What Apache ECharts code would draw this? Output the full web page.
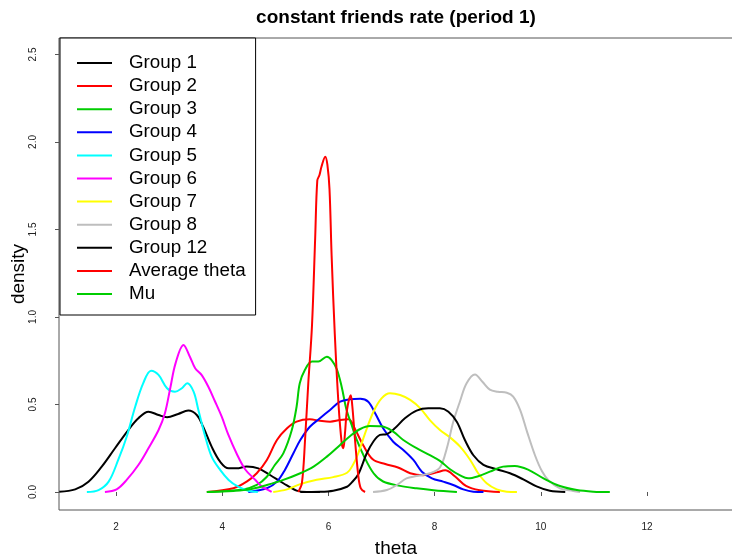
<!DOCTYPE html>
<html>
<head>
<meta charset="utf-8">
<script src="https://cdn.jsdelivr.net/npm/echarts@6/dist/echarts.min.js"></script>
<style>
html,body{margin:0;padding:0;background:#fff;}
#chart{width:732px;height:557px;}
</style>
</head>
<body>
<div id="chart"></div>
<script>
// ---- data ----
const xTicks = [2, 4, 6, 8, 10, 12];
const yTicks = [0, 0.5, 1, 1.5, 2, 2.5];

const seriesNames = ['Group 1','Group 2','Group 3','Group 4','Group 5','Group 6','Group 7','Group 8','Group 12','Average theta','Mu'];

const group1Theta = [0.93,1.23,1.48,1.73,1.98,2.23,2.42,2.61,2.80,2.96,3.17,3.36,3.52,3.64,3.80,3.96,4.12,4.27,4.46,4.68,4.90,5.15,5.40,5.59,5.84];
const group1Dens  = [0.002,0.015,0.059,0.145,0.25,0.354,0.421,0.459,0.44,0.427,0.446,0.465,0.44,0.373,0.259,0.173,0.135,0.135,0.145,0.135,0.097,0.05,0.008,0,0];

const group2Theta = [3.71,4.21,4.46,4.65,4.84,5.03,5.22,5.40,5.65,5.84,6.03,6.22,6.38,6.50,6.65,6.84,7.07,7.31,7.54,7.78,8.04,8.20,8.38,8.59,8.85,9.23];
const group2Dens  = [0,0.021,0.059,0.107,0.183,0.297,0.364,0.402,0.415,0.407,0.402,0.411,0.415,0.36,0.27,0.185,0.16,0.14,0.107,0.095,0.112,0.124,0.09,0.035,0.01,0];

const group3Theta = [3.71,4.40,4.65,4.84,4.99,5.15,5.31,5.40,5.46,5.56,5.69,5.81,5.97,6.06,6.16,6.25,6.34,6.44,6.53,6.66,6.85,7.03,7.35,7.66,7.98,8.42];
const group3Dens  = [0,0.015,0.04,0.087,0.154,0.221,0.354,0.487,0.621,0.70,0.745,0.745,0.773,0.754,0.70,0.60,0.47,0.38,0.30,0.21,0.107,0.06,0.035,0.021,0.01,0];

const group4Theta = [4.49,4.84,5.03,5.18,5.34,5.47,5.65,5.84,6.03,6.22,6.41,6.60,6.75,6.88,7.03,7.22,7.41,7.60,7.76,7.95,8.16,8.35,8.54,8.73,8.92];
const group4Dens  = [0,0.021,0.059,0.126,0.221,0.297,0.373,0.421,0.469,0.516,0.53,0.533,0.516,0.45,0.364,0.287,0.24,0.183,0.116,0.078,0.059,0.04,0.015,0.002,0];

const group5Theta = [1.45,1.67,1.86,2.04,2.20,2.36,2.51,2.66,2.80,2.96,3.11,3.24,3.34,3.46,3.55,3.68,3.80,3.96,4.12,4.30,4.49,4.67];
const group5Dens  = [0,0.011,0.059,0.183,0.316,0.487,0.621,0.693,0.669,0.593,0.573,0.593,0.621,0.573,0.469,0.316,0.202,0.126,0.069,0.03,0.007,0];

const group6Theta = [1.79,2.01,2.20,2.42,2.61,2.80,2.92,3.02,3.12,3.27,3.39,3.49,3.61,3.74,3.86,3.99,4.11,4.27,4.43,4.62,4.75,4.87,4.93];
const group6Dens  = [0,0.015,0.069,0.154,0.25,0.354,0.45,0.593,0.735,0.84,0.773,0.707,0.669,0.60,0.52,0.43,0.33,0.22,0.13,0.07,0.03,0.01,0];

const group7Theta = [4.96,5.22,5.47,5.78,6.09,6.35,6.47,6.56,6.69,6.85,7.00,7.16,7.35,7.54,7.73,7.91,8.10,8.29,8.48,8.67,8.82,8.98,9.17,9.36,9.55];
const group7Dens  = [0,0.015,0.045,0.07,0.085,0.11,0.16,0.22,0.335,0.46,0.535,0.564,0.554,0.526,0.478,0.411,0.354,0.312,0.259,0.183,0.107,0.05,0.015,0.002,0];

const group8Theta = [6.84,7.10,7.29,7.47,7.66,7.91,8.10,8.23,8.35,8.48,8.60,8.76,8.90,9.04,9.19,9.36,9.48,9.61,9.74,9.89,10.02,10.15,10.36,10.61,10.74];
const group8Dens  = [0,0.011,0.04,0.078,0.091,0.107,0.14,0.25,0.40,0.52,0.62,0.671,0.63,0.585,0.573,0.567,0.545,0.469,0.345,0.21,0.12,0.065,0.021,0.006,0];

const group12Theta = [5.47,5.84,6.09,6.35,6.44,6.56,6.72,6.85,6.97,7.10,7.25,7.44,7.66,7.88,8.10,8.26,8.42,8.57,8.73,8.92,9.17,9.42,9.67,9.92,10.17,10.46];
const group12Dens  = [0,0.001,0.007,0.03,0.055,0.10,0.22,0.29,0.326,0.331,0.364,0.421,0.465,0.478,0.478,0.459,0.40,0.297,0.21,0.155,0.13,0.107,0.072,0.032,0.007,0];

const avgTheta = [5.43,5.50,5.56,5.62,5.69,5.75,5.79,5.83,5.87,5.94,5.98,6.02,6.06,6.12,6.19,6.25,6.28,6.31,6.35,6.42,6.45,6.50,6.56,6.61,6.69];
const avgDens  = [0,0.05,0.30,0.62,0.95,1.45,1.78,1.81,1.86,1.916,1.87,1.73,1.35,0.9,0.5,0.28,0.25,0.33,0.47,0.553,0.49,0.3,0.1,0.02,0];

const muTheta = [3.71,4.21,4.52,4.84,5.15,5.47,5.72,5.97,6.22,6.41,6.60,6.78,7.00,7.22,7.41,7.66,7.91,8.10,8.29,8.48,8.63,8.82,9.04,9.29,9.51,9.76,10.05,10.36,10.68,10.99,11.30];
const muDens  = [0,0.006,0.015,0.04,0.069,0.107,0.145,0.202,0.269,0.32,0.36,0.377,0.375,0.345,0.297,0.25,0.211,0.178,0.13,0.095,0.078,0.09,0.116,0.145,0.149,0.128,0.078,0.034,0.011,0.002,0];

// ---- styles ----
const seriesColors = ['#000000','#FF0000','#00CD00','#0000FF','#00FFFF','#FF00FF','#FFFF00','#BEBEBE','#000000','#FF0000','#00CD00'];
const thetaLists = [group1Theta,group2Theta,group3Theta,group4Theta,group5Theta,group6Theta,group7Theta,group8Theta,group12Theta,avgTheta,muTheta];
const densLists  = [group1Dens,group2Dens,group3Dens,group4Dens,group5Dens,group6Dens,group7Dens,group8Dens,group12Dens,avgDens,muDens];

function zip(xs, ys) { return xs.map((x, i) => [x, ys[i]]); }

const FONT = 'Liberation Sans, Arial, sans-serif';

const series = seriesNames.map((name, i) => ({
  name: name,
  type: 'line',
  data: zip(thetaLists[i], densLists[i]),
  showSymbol: false,
  symbol: 'none',
  smooth: 0.35,
  clip: true,
  color: seriesColors[i],
  lineStyle: { color: seriesColors[i], width: 2 },
  emphasis: { disabled: true },
  z: 2 + i
}));

const chart = echarts.init(document.getElementById('chart'), null, { renderer: 'canvas' });
chart.setOption({
  animation: false,
  backgroundColor: '#ffffff',
  title: {
    text: 'constant friends rate (period 1)',
    left: 391,
    top: 3,
    textAlign: 'center',
    textStyle: { fontFamily: FONT, fontSize: 19, fontWeight: 'bold', color: '#000' }
  },
  legend: {
    orient: 'vertical',
    left: 60,
    top: 38,
    padding: [15.5, 10, 11.5, 17],
    itemGap: 4.1,
    itemWidth: 35,
    itemHeight: 2,
    icon: 'rect',
    selectedMode: false,
    borderColor: '#000',
    borderWidth: 1,
    backgroundColor: '#fff',
    textStyle: { fontFamily: FONT, fontSize: 18.8, color: '#000', padding: [0, 0, 0, 12] },
    data: seriesNames
  },
  grid: {
    left: 59, top: 38, width: 674, bottom: 47,
    show: true, borderColor: '#555', borderWidth: 1,
    containLabel: false,
    outerBoundsMode: 'none'
  },
  xAxis: {
    type: 'value',
    min: 0.925, max: 13.62,
    name: 'theta',
    nameLocation: 'middle',
    nameGap: 29,
    nameMoveOverlap: false,
    nameTextStyle: { fontFamily: FONT, fontSize: 19, color: '#000' },
    axisLine: { show: false },
    axisTick: { show: true, length: 4, lineStyle: { color: '#555' }, customValues: xTicks },
    axisLabel: { fontFamily: FONT, fontSize: 10, color: '#222', margin: 12, customValues: xTicks },
    splitLine: { show: false }
  },
  yAxis: {
    type: 'value',
    min: -0.1029, max: 2.594,
    name: 'density',
    nameLocation: 'middle',
    nameRotate: 90,
    nameGap: 31,
    nameMoveOverlap: false,
    nameTextStyle: { fontFamily: FONT, fontSize: 19, color: '#000' },
    axisLine: { show: false },
    axisTick: { show: true, length: 4, lineStyle: { color: '#555' }, customValues: yTicks },
    axisLabel: { fontFamily: FONT, fontSize: 10, color: '#222', margin: 21, rotate: 90, customValues: yTicks,
      formatter: v => Number(v).toFixed(1) },
    splitLine: { show: false }
  },
  series: series
});
</script>
</body>
</html>
